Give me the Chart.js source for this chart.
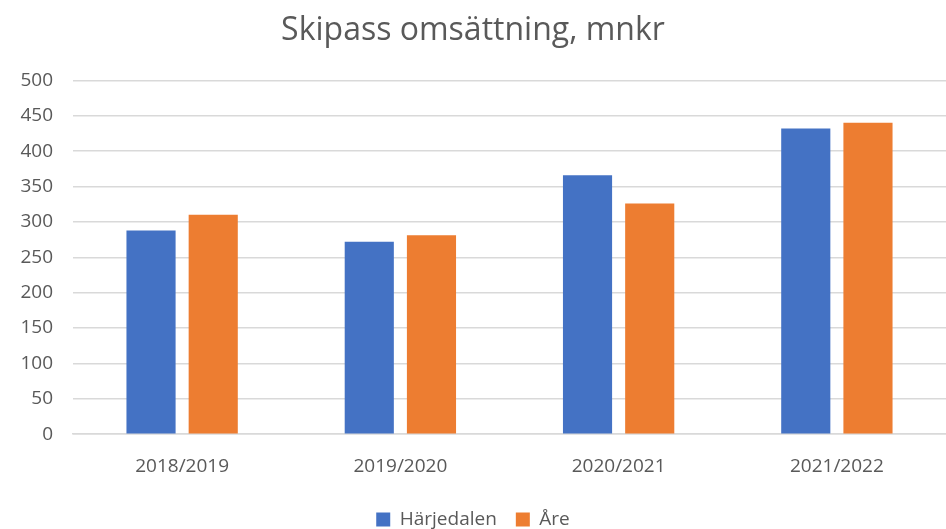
<!DOCTYPE html>
<html>
<head>
<meta charset="utf-8">
<script src="https://cdn.jsdelivr.net/npm/chart.js@4"></script>
<style>
	html, body { margin: 0; padding: 0; background: #fff; }
	#wrap { width: 946px; height: 529px; }
</style>
</head>
<body>
<div id="wrap"><canvas id="chartStaplar"></canvas></div>
<script>
// Data
const sasonger = ['2018/2019', '2019/2020', '2020/2021', '2021/2022'];
const harjedalen = [288, 272, 366, 432];
const are = [310, 281, 326, 440];
const yTicks = [0, 50, 100, 150, 200, 250, 300, 350, 400, 450, 500];

const fontFamily = "'Open Sans', 'Noto Sans', sans-serif";
const textFarg = '#595959';

const ctx = document.getElementById('chartStaplar');

new Chart(ctx, {
	type: 'bar',
	data: {
		labels: sasonger,
		datasets: [
			{ label: 'Härjedalen', data: harjedalen, backgroundColor: '#4472c4' },
			{ label: 'Åre', data: are, backgroundColor: '#ed7d31' }
		]
	},
	options: {
		responsive: true,
		maintainAspectRatio: false,
		animation: false,
		categoryPercentage: 0.57,
		barPercentage: 0.79,
		layout: { padding: { top: 12, right: 0, bottom: -10, left: 0 } },
		plugins: {
			title: {
				display: true,
				text: 'Skipass omsättning, mnkr',
				color: textFarg,
				font: { family: fontFamily, size: 32, weight: 'normal' },
				padding: { top: 0, bottom: 30 }
			},
			legend: {
				position: 'bottom',
				labels: {
					color: textFarg,
					boxWidth: 14,
					boxHeight: 14,
					padding: 19,
					font: { family: fontFamily, size: 19 }
				}
			},
			tooltip: { enabled: false }
		},
		scales: {
			x: {
				grid: { display: false },
				border: { color: '#d9d9d9', width: 1.5 },
				ticks: {
					color: textFarg,
					padding: 13,
					font: { family: fontFamily, size: 19 }
				}
			},
			y: {
				min: 0,
				max: 500,
				afterBuildTicks: function (scale) {
					scale.ticks = yTicks.map(v => ({ value: v }));
				},
				afterFit: function (scale) {
					scale.width = 73;
				},
				grid: { color: '#d9d9d9', lineWidth: 1.5, drawTicks: false },
				border: { display: false },
				ticks: {
					color: textFarg,
					padding: 20,
					font: { family: fontFamily, size: 19 }
				}
			}
		}
	}
});
</script>
</body>
</html>
